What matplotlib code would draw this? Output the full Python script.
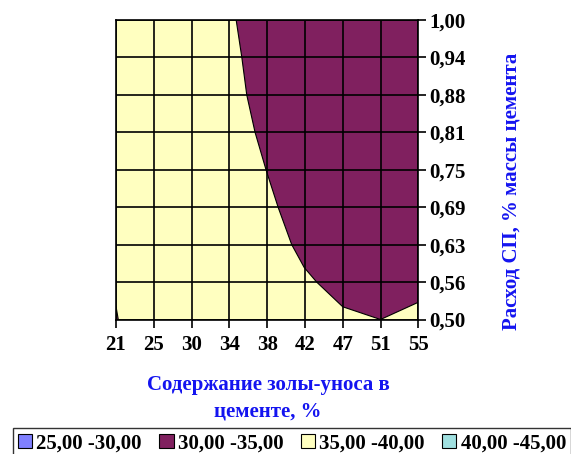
import matplotlib
matplotlib.use('Agg')
import matplotlib.pyplot as plt
from matplotlib.patches import Patch, Polygon, Rectangle

x_labels = ['21', '25', '30', '34', '38', '42', '47', '51', '55']
y_labels = ['0,50', '0,56', '0,63', '0,69', '0,75', '0,81', '0,88', '0,94', '1,00']
legend_labels = ['25,00 -30,00', '30,00 -35,00', '35,00 -40,00', '40,00 -45,00']
legend_colors = ['#8080FF', '#80205F', '#FFFFC0', '#A0E0E0']

# 35-isoline (border between the 30-35 and 35-40 zones), in grid-cell units
boundary_x = [3.18, 3.33, 3.46, 3.68, 3.97, 4.29, 4.65, 4.98, 5.31, 6.0, 7.0, 8.0]
boundary_y = [8.0, 7.0, 6.0, 5.0, 4.0, 3.0, 2.0, 1.39, 1.0, 0.34, 0.0, 0.46]
# tiny 30-35 spot at the lower-left corner
spot_x = [0.0, 0.06, 0.0]
spot_y = [0.0, 0.0, 0.35]

plt.rcParams['font.family'] = ['Liberation Serif', 'DejaVu Serif']
plt.rcParams['font.weight'] = 'bold'

fig = plt.figure(figsize=(5.71, 4.54), dpi=100)
ax = fig.add_axes([116 / 571, 1 - 319.5 / 454, 302.3 / 571, 299.5 / 454])

nx = len(x_labels) - 1
ny = len(y_labels) - 1

ax.add_patch(Rectangle((0, 0), nx, ny, facecolor=legend_colors[2], edgecolor='none', zorder=1))
poly = list(zip(boundary_x, boundary_y)) + [(nx, ny)]
ax.add_patch(Polygon(poly, closed=True, facecolor=legend_colors[1], edgecolor='black', linewidth=0.8, zorder=2))
ax.add_patch(Polygon(list(zip(spot_x, spot_y)), closed=True, facecolor=legend_colors[1], edgecolor='black', linewidth=0.8, zorder=2))

ax.set_xlim(0, nx)
ax.set_ylim(0, ny)
ax.set_xticks(range(len(x_labels)))
ax.set_xticklabels(x_labels, fontsize=15, fontweight='bold')
ax.set_yticks(range(len(y_labels)))
ax.set_yticklabels(y_labels, fontsize=15, fontweight='bold')
ax.yaxis.tick_right()
ax.tick_params(axis='both', direction='out', length=6, width=1.2, color='black')
ax.tick_params(axis='x', pad=5)
ax.tick_params(axis='y', pad=2)
ax.grid(True, color='black', linewidth=1.2, zorder=3)
ax.set_axisbelow(False)
for s in ax.spines.values():
    s.set_linewidth(1.2)
    s.set_color('black')
    s.set_zorder(4)

fig.text(268 / 571, 1 - 385 / 454, 'Содержание золы-уноса в', ha='center', va='center',
         color='#1414F0', fontsize=15, fontweight='bold')
fig.text(268 / 571, 1 - 411 / 454, 'цементе, %', ha='center', va='center',
         color='#1414F0', fontsize=15, fontweight='bold')
fig.text(512 / 571, 1 - 191 / 454, 'Расход СП, % массы цемента', ha='center', va='center',
         rotation=90, color='#1414F0', fontsize=15, fontweight='bold')

handles = [Patch(facecolor=c, edgecolor='black', linewidth=0.8) for c in legend_colors]
leg = fig.legend(handles, legend_labels, ncol=4, loc='upper left',
                 bbox_to_anchor=(12.5 / 571, 1 - 428 / 454), frameon=True, fancybox=False,
                 prop={'family': 'Liberation Serif', 'weight': 'bold', 'size': 15},
                 handlelength=0.7, handleheight=0.7, handletextpad=0.2, columnspacing=0.82,
                 borderpad=0.25, borderaxespad=0)
leg.get_frame().set_edgecolor('black')
leg.get_frame().set_linewidth(1.0)

fig.savefig('out.png', dpi=100)
